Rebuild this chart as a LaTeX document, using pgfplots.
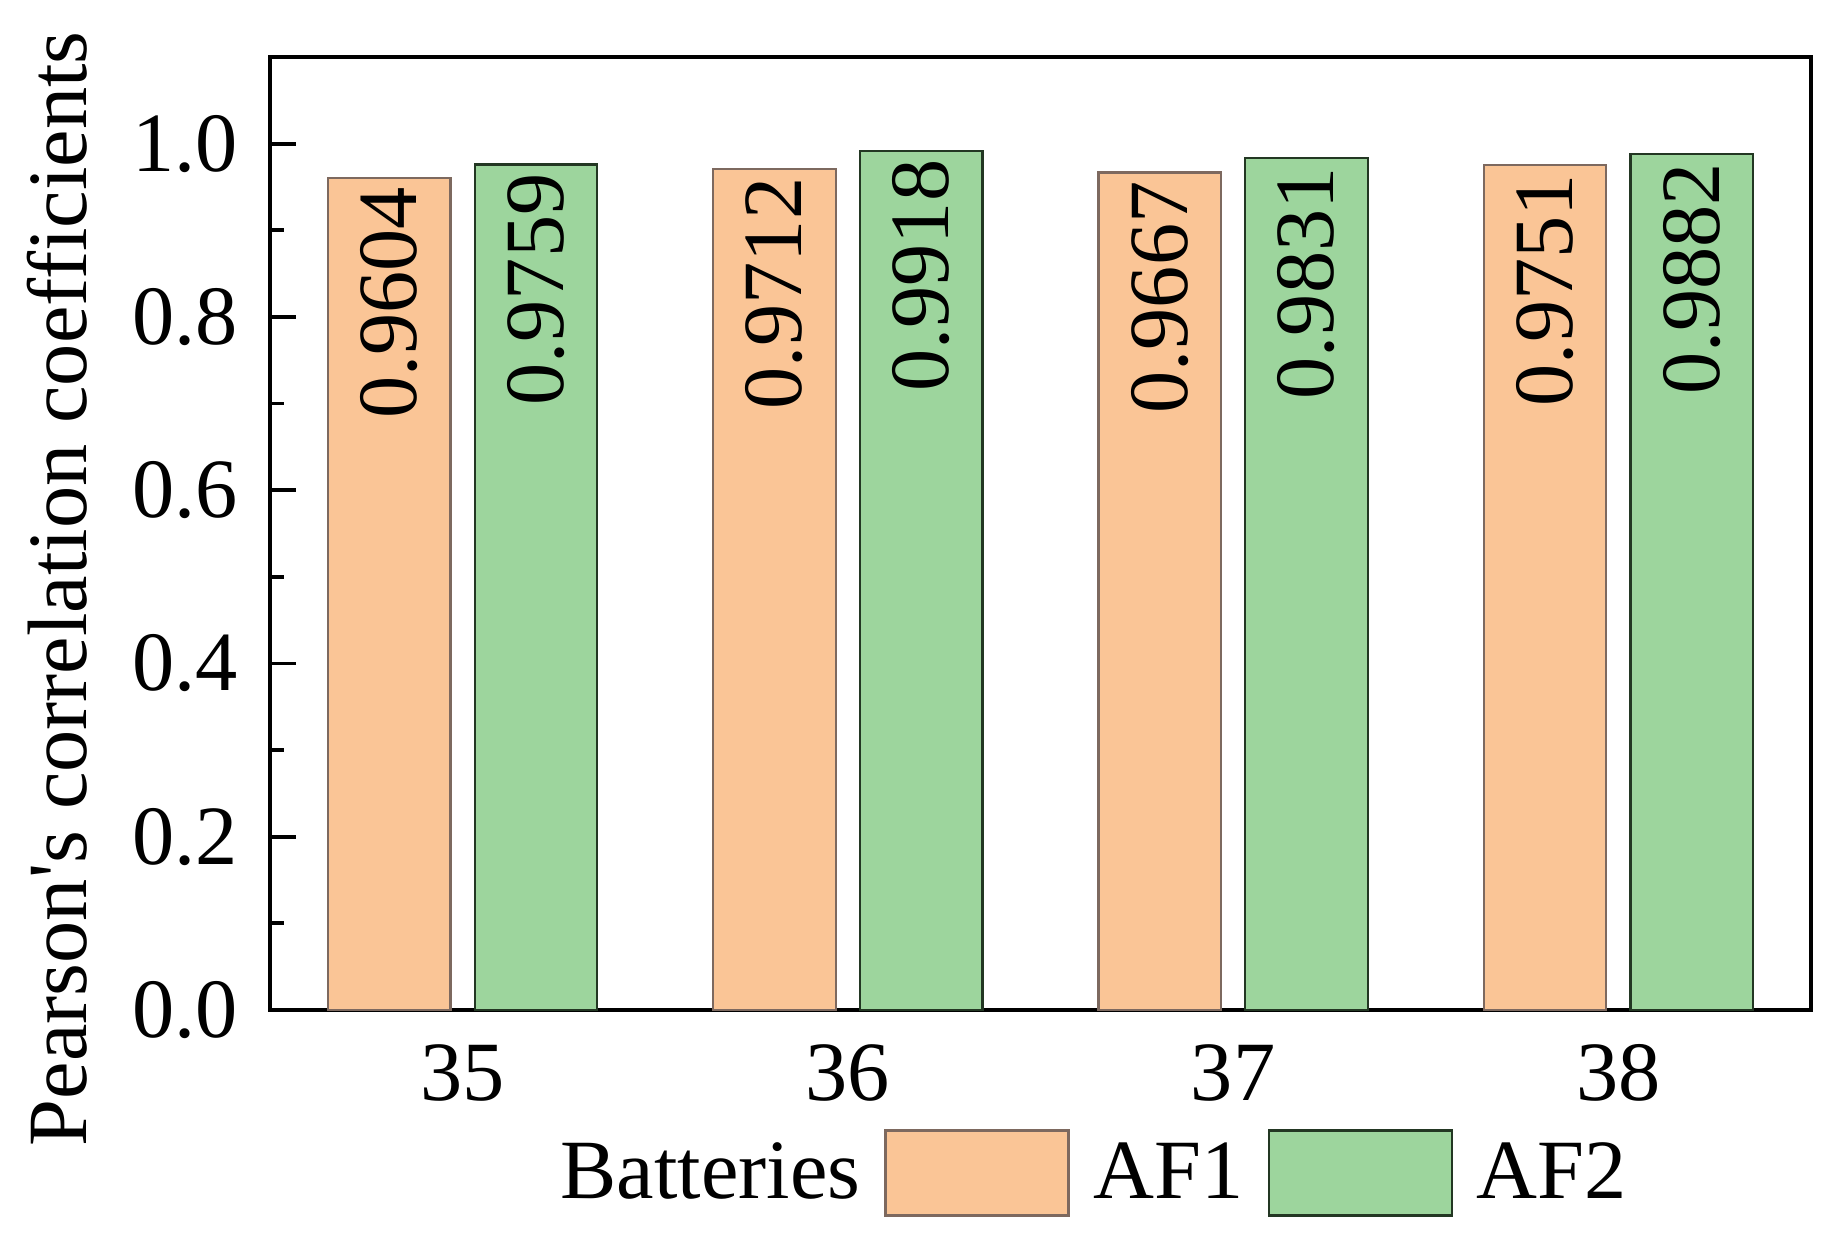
\documentclass[border=0pt]{standalone}
\usepackage{fontspec}
\setmainfont{Liberation Serif}
\usepackage{pgfplots}
\pgfplotsset{compat=1.18}

\definecolor{afone}{RGB}{250,197,150}
\definecolor{aftwo}{RGB}{157,213,157}
\definecolor{afoneline}{RGB}{125,105,95}
\definecolor{aftwoline}{RGB}{35,55,35}

\newcommand{\chartfont}{\fontsize{24}{29}\selectfont}

\pgfplotsset{
  big bar legend/.style={
    legend image code/.code={\draw[##1] (0cm,-0.425cm) rectangle (1.83cm,0.425cm);}},
}

\begin{document}
\begin{tikzpicture}
\path[use as bounding box] (-2.70cm,-2.30cm) rectangle (15.68cm,10.10cm);
\begin{axis}[
  scale only axis,
  width=15.41cm, height=9.53cm,
  ybar=0.243cm, bar width=0.318,
  xmin=34.5, xmax=38.5,
  ymin=0, ymax=1.1,
  xtick={35,36,37,38},
  ytick={0,0.2,0.4,0.6,0.8,1.0},
  minor y tick num=1,
  tick align=inside,
  ytick pos=left, xtick pos=bottom,
  major tick length=0.26cm, minor tick length=0.14cm,
  x tick style={draw=none},
  y tick style={line width=1.1pt, black},
  axis line style={line width=1.1pt},
  tick label style={font=\chartfont, /pgf/number format/assume math mode=true},
  yticklabel style={/pgf/number format/fixed, /pgf/number format/fixed zerofill,
    /pgf/number format/precision=1, xshift=-0.2cm},
  xticklabel style={yshift=-0.22cm},
  ylabel={Pearson\textquotesingle s correlation coefficients},
  every axis y label/.style={at={(axis description cs:-0.138,0.442)},
    rotate=90, anchor=center, font=\chartfont},
  nodes near coords,
  point meta=y,
  nodes near coords style={rotate=90, anchor=east, inner xsep=0.08cm, font=\chartfont,
    /pgf/number format/fixed, /pgf/number format/fixed zerofill,
    /pgf/number format/precision=4, /pgf/number format/assume math mode=true},
  legend columns=-1,
  legend style={draw=none, fill=none, inner sep=0pt,
    at={(axis description cs:0.1726,-0.171)}, anchor=west,
    column sep=0.24cm, font=\chartfont, nodes={inner sep=0pt}},
]
\addlegendimage{empty legend}
\addlegendentry{Batteries}

% AF1
\addplot[fill=afone, draw=afoneline, line width=0.6pt, big bar legend]
  coordinates {(35,0.9604) (36,0.9712) (37,0.9667) (38,0.9751)};
\addlegendentry{AF1}

% AF2
\addplot[fill=aftwo, draw=aftwoline, line width=0.6pt, big bar legend]
  coordinates {(35,0.9759) (36,0.9918) (37,0.9831) (38,0.9882)};
\addlegendentry{AF2}
\end{axis}
\end{tikzpicture}
\end{document}
